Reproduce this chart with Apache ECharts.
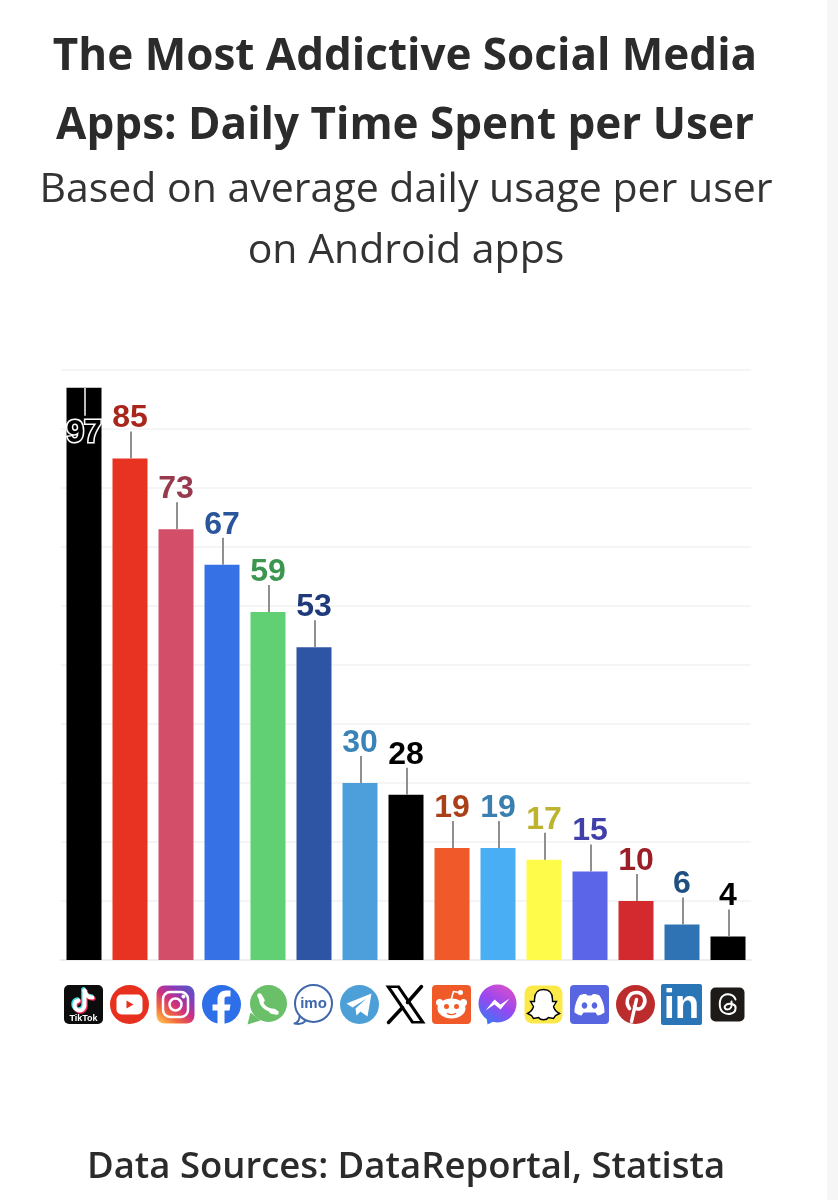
<!DOCTYPE html>
<html>
<head>
<meta charset="utf-8">
<style>html,body{margin:0;padding:0;background:#fff}#chart{width:838px;height:1200px}</style>
<script src="https://cdn.jsdelivr.net/npm/echarts@6/dist/echarts.min.js"></script>
</head>
<body>
<div id="chart"></div>
<script>
var apps = ['TikTok', 'YouTube', 'Instagram', 'Facebook', 'WhatsApp', 'imo', 'Telegram', 'X', 'Reddit', 'Messenger', 'Snapchat', 'Discord', 'Pinterest', 'LinkedIn', 'Threads']
var minutes = [97, 85, 73, 67, 59, 53, 30, 28, 19, 19, 17, 15, 10, 6, 4]
var barColors = ['#000000', '#e83323', '#d34e68', '#3672e6', '#61d074', '#2e55a4', '#4d9fdb', '#000000', '#f05a2a', '#4aaef5', '#fffb4a', '#5a65e8', '#d32a30', '#2f73b4', '#000000']
var labelColors = ['#000000', '#a8261c', '#983a4e', '#2a549c', '#3d9650', '#1f3a7a', '#3a83b8', '#000000', '#ab4018', '#3a7fb0', '#bdb32f', '#4040a8', '#9c1f28', '#1f5080', '#000000']

var LABEL_FONT = '"Liberation Sans", Arial, sans-serif'
var TEXT_FONT = '"Open Sans", "Noto Sans", sans-serif'

function grad(x, y, x2, y2, stops) {
  return new echarts.graphic.LinearGradient(x, y, x2, y2, stops.map(function (c, i) {
    return {offset: i / (stops.length - 1), color: c}
  }))
}
function rrect(s, r, fill, stroke, lw) {
  return {type: 'rect', shape: {x: -s, y: -s, width: s * 2, height: s * 2, r: r}, style: {fill: fill, stroke: stroke || null, lineWidth: lw || 0}}
}
function circ(x, y, r, fill, stroke, lw) {
  return {type: 'circle', shape: {cx: x, cy: y, r: r}, style: {fill: fill, stroke: stroke || null, lineWidth: lw || 0}}
}
function ell(x, y, rx, ry, fill) {
  return {type: 'ellipse', shape: {cx: x, cy: y, rx: rx, ry: ry}, style: {fill: fill}}
}
function fillPath(d, fill) {
  return {type: 'path', shape: {pathData: d}, style: {fill: fill}}
}
function strokePath(d, color, lw, ox, oy) {
  return {type: 'path', x: ox || 0, y: oy || 0, shape: {pathData: d}, style: {fill: null, stroke: color, lineWidth: lw, lineCap: 'round', lineJoin: 'round'}}
}
function word(t, y, size, color, weight) {
  return {type: 'text', x: 0, y: y, style: {text: t, fill: color, font: (weight || 'bold') + ' ' + size + 'px ' + LABEL_FONT, textAlign: 'center', textVerticalAlign: 'middle'}}
}

var noteD = 'M1 -14 V1 A5 5 0 1 1 -5 -4'
var noteF = 'M1 -14 C2 -9 5 -7 9 -7'
var icons = {
  TikTok: function () {
    return [rrect(19.5, 5, '#0c0c0c'),
      strokePath(noteD, '#3fd8de', 4.5, -1, -1), strokePath(noteF, '#3fd8de', 4.5, -1, -1),
      strokePath(noteD, '#ee2a55', 4.5, 1, 1), strokePath(noteF, '#ee2a55', 4.5, 1, 1),
      strokePath(noteD, '#ffffff', 4), strokePath(noteF, '#ffffff', 4),
      word('TikTok', 14, 9, '#ffffff')]
  },
  YouTube: function () {
    return [circ(0, 0, 19.5, '#e8301f'),
      {type: 'rect', shape: {x: -13, y: -10, width: 26, height: 20, r: 5}, style: {fill: '#ffffff'}},
      fillPath('M-3 -4 L4 0 L-3 4 Z', '#e8301f')]
  },
  Instagram: function () {
    return [rrect(19, 8, grad(0.1, 1, 0.9, 0, ['#fdc350', '#f2683a', '#d0307f', '#8a3ab9', '#5558c8'])),
      rrect(12.5, 7, null, '#ffffff', 2.5),
      circ(0, 0, 6, null, '#ffffff', 2.5),
      circ(8, -8, 2, '#ffffff')]
  },
  Facebook: function () {
    return [circ(0, 0, 19.5, '#2c6fe8'),
      fillPath('M-4 19.4 V6 H-9 V0 H-4 V-5 C-4 -11 0 -14 4.5 -14 H9 V-8 H6 C3.5 -8 3 -7 3 -5 V0 H9 L8 6 H3 V19.4 Z', '#ffffff')]
  },
  WhatsApp: function () {
    return [fillPath('M-17 8 L-20 20 L-7 16 Z', '#6abf69'), circ(1, -1, 18.5, '#6abf69'),
      strokePath('M-7 -7 C-7 1 -1 6 7 6', '#ffffff', 3.5),
      strokePath('M-8 -9 L-5 -4', '#ffffff', 4.5),
      strokePath('M4 7 L9 8', '#ffffff', 4.5)]
  },
  imo: function () {
    return [strokePath('M-14 12 C-14 16 -16 18 -19 19 C-14 20 -10 19 -8 16', '#3f68ab', 2),
      circ(0, -1, 18.5, '#ffffff', '#3f68ab', 2),
      word('imo', -1, 15, '#3f68ab')]
  },
  Telegram: function () {
    return [circ(0, 0, 19.5, '#4d9fd8'),
      fillPath('M-13 -1 L12 -11 L8 12 L1 7 L-3 11 L-4 4 L7 -6 L-7 3 Z', '#ffffff')]
  },
  X: function () {
    return [fillPath('M-20 -19 H-6 L20 19 H6 Z', '#000000'),
      fillPath('M-14.5 -16.5 H-8 L14.5 16.5 H8 Z', '#ffffff'),
      strokePath('M16 -18 L2 -2', '#000000', 3.5),
      strokePath('M-17 18 L-3 3', '#000000', 3.5)]
  },
  Reddit: function () {
    return [rrect(19.5, 4, '#f05a28'),
      strokePath('M0 -6 L2 -13 L8 -12', '#ffffff', 1.6), circ(9, -12, 2.5, '#ffffff'),
      circ(-12, -2, 3.5, '#ffffff'), circ(12, -2, 3.5, '#ffffff'),
      ell(0, 4, 14, 10, '#ffffff'),
      circ(-5, 2, 2.5, '#f05a28'), circ(5, 2, 2.5, '#f05a28'),
      strokePath('M-4 9 C-2 10.5 2 10.5 4 9', '#f05a28', 1.4)]
  },
  Messenger: function () {
    var g = grad(0.8, 0, 0.2, 1, ['#d950c8', '#9a47f0', '#3f74f5'])
    return [fillPath('M-11 12 L-10 20 L-2 16 Z', '#3f74f5'), circ(0, -1, 19, g),
      fillPath('M-12 6 L-3 -5 L3 0 L12 -6 L3 5 L-3 0 Z', '#ffffff')]
  },
  Snapchat: function () {
    return [rrect(19, 8, '#fbe94a'),
      {type: 'path', shape: {pathData: 'M0 -15 C-7 -15 -9 -10 -9 -5 L-9 -3 L-13 -3 L-10 2 C-11 6 -14 8 -16 9 L-12 11 L-10 14 L-5 13 C-3 16 3 16 5 13 L10 14 L12 11 L16 9 C14 8 11 6 10 2 L13 -3 L9 -3 L9 -5 C9 -10 7 -15 0 -15 Z'}, style: {fill: '#ffffff', stroke: '#000000', lineWidth: 1.4}}]
  },
  Discord: function () {
    return [rrect(19.5, 4, '#5865e0'),
      fillPath('M-10 -9 C-6 -11 -3 -11 -2 -9 H2 C3 -11 6 -11 10 -9 C14 -3 15 3 15 8 C12 10 10 11 8 11 L6 8 H-6 L-8 11 C-10 11 -12 10 -15 8 C-15 3 -14 -3 -10 -9 Z', '#ffffff'),
      ell(-5, 1, 2.8, 3.2, '#5865e0'), ell(5, 1, 2.8, 3.2, '#5865e0')]
  },
  Pinterest: function () {
    return [circ(0, 0, 19.5, '#bd2c2c'),
      strokePath('M-6 4 C-11 -3 -7 -12 1 -12 C9 -12 11 -4 8 1 C6 5 1 6 -1 2', '#ffffff', 3.6),
      strokePath('M1 -5 L-4 17', '#ffffff', 3.4)]
  },
  LinkedIn: function () {
    return [rrect(20.5, 2, '#2a75b5'), word('in', 2, 40, '#ffffff')]
  },
  Threads: function () {
    return [rrect(17, 5, '#1d1a18'),
      strokePath('M8 -5 C6 -11 -1 -11 -4 -9 C-9 -6 -9 5 -4 8 C1 11 8 9 8 4 C9 0 3 -2 -1 0 C-4 2 -3 5 0 5 C3 5 5 2 4 -3', '#ffffff', 2)]
  }
}

function renderStem(params, api) {
  var i = api.value(0)
  var v = api.value(1)
  var top = api.coord([i, v])
  var flip = v > 90
  var color = labelColors[i]
  var stemEnd = flip ? top[1] + 28 : top[1] - 27
  var labelY = flip ? top[1] + 45 : top[1] - 40
  return {
    type: 'group',
    children: [
      {type: 'line', shape: {x1: top[0] + 1, y1: top[1], x2: top[0] + 1, y2: stemEnd}, style: {stroke: flip ? '#bdbdbd' : '#8f8f8f', lineWidth: 2}},
      {type: 'text', x: top[0], y: labelY, style: {
        text: String(v),
        fill: color,
        font: 'bold 32px ' + LABEL_FONT,
        textAlign: 'center',
        textVerticalAlign: 'middle',
        stroke: flip ? '#ffffff' : null,
        lineWidth: flip ? 3 : 0
      }}
    ]
  }
}

function renderIcon(params, api) {
  var i = api.value(0)
  var base = api.coord([i, 0])
  return {type: 'group', x: base[0] - 0.5, y: base[1] + 44.5, children: icons[apps[i]]()}
}

var option = {
  backgroundColor: '#ffffff',
  animation: false,
  title: [
    {text: 'The Most Addictive Social Media\nApps: Daily Time Spent per User', left: 400, top: 18, textAlign: 'center',
      textStyle: {fontFamily: TEXT_FONT, fontSize: 44, fontWeight: 'bold', color: '#2b2b2b', lineHeight: 69}},
    {text: 'Based on average daily usage per user\non Android apps', left: 401, top: 155, textAlign: 'center',
      textStyle: {fontFamily: TEXT_FONT, fontSize: 41, fontWeight: 'normal', color: '#333333', lineHeight: 61}},
    {text: 'Data Sources: DataReportal, Statista', left: 401, top: 1144, textAlign: 'center',
      textStyle: {fontFamily: TEXT_FONT, fontSize: 36.5, fontWeight: 600, color: '#2b2b2b'}}
  ],
  graphic: [
    {type: 'rect', shape: {x: 827, y: 0, width: 11, height: 1200}, style: {fill: '#f6f6f6'}, silent: true}
  ],
  grid: {left: 61, right: 87, top: 370, bottom: 240},
  xAxis: {
    type: 'category',
    data: apps,
    axisLine: {lineStyle: {color: '#eeeeee', width: 2}},
    axisTick: {show: false},
    axisLabel: {show: false}
  },
  yAxis: {
    type: 'value',
    min: 0,
    max: 100,
    interval: 10,
    axisLine: {show: false},
    axisTick: {show: false},
    axisLabel: {show: false},
    splitLine: {lineStyle: {color: '#f5f5f5', width: 2}}
  },
  series: [
    {
      type: 'bar',
      barWidth: 35,
      data: minutes.map(function (v, i) {
        return {value: v, itemStyle: {color: barColors[i]}}
      })
    },
    {
      type: 'custom',
      renderItem: renderStem,
      encode: {x: 0, y: 1},
      z: 5,
      data: minutes.map(function (v, i) { return [i, v] })
    },
    {
      type: 'custom',
      renderItem: renderIcon,
      encode: {x: 0, y: 1},
      clip: false,
      z: 5,
      data: apps.map(function (a, i) { return [i, 0] })
    }
  ]
}

var myChart = echarts.init(document.getElementById('chart'))
myChart.setOption(option)
</script>
</body>
</html>
